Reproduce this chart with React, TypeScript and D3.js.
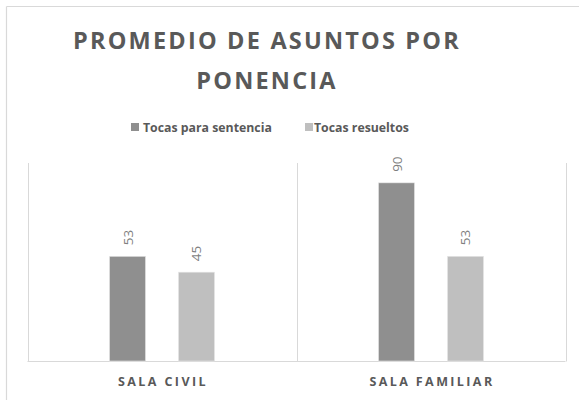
import React from "react";
import * as d3 from "d3";

const categories = ["SALA CIVIL", "SALA FAMILIAR"];
const seriesNames = ["Tocas para sentencia", "Tocas resueltos"];
const tocasParaSentencia = [53, 90];
const tocasResueltos = [45, 53];
const seriesColors = ["#8f8f8f", "#bfbfbf"];

const W = 579;
const H = 400;
const FONT = "'Open Sans', 'Noto Sans', sans-serif";

export default function App() {
  const plotLeft = 27.5;
  const plotRight = 565.5;
  const plotTop = 163;
  const plotBottom = 361.5;

  const x0 = d3.scaleBand<string>().domain(categories).range([plotLeft, plotRight]).padding(0);
  const groupW = 105;
  const x1 = d3.scaleBand<string>().domain(seriesNames).range([0, groupW]).paddingInner(0.478).paddingOuter(0);
  const y = d3.scaleLinear().domain([0, 100]).range([plotBottom, plotTop]);

  const values = [tocasParaSentencia, tocasResueltos];

  const boundaries = [...categories.map((c) => x0(c) as number), plotRight];

  return (
    <svg width={W} height={H} style={{ position: "absolute", left: 0, top: 0, background: "#fff" }}>
      <rect x={0} y={0} width={W} height={H} fill="#fff" />
      <line x1={6.5} y1={6.5} x2={W} y2={6.5} stroke="#d9d9d9" strokeWidth={1.2} />
      <line x1={6.5} y1={6.5} x2={6.5} y2={H} stroke="#d9d9d9" strokeWidth={1.2} />

      <text x={267} y={48.5} textAnchor="middle" fontFamily={FONT} fontWeight={700} fontSize={23.5} fill="#595959" letterSpacing={2.2}>
        PROMEDIO DE ASUNTOS POR
      </text>
      <text x={267} y={88.5} textAnchor="middle" fontFamily={FONT} fontWeight={700} fontSize={23.5} fill="#595959" letterSpacing={2.2}>
        PONENCIA
      </text>

      {/* legend */}
      <rect x={131} y={123} width={8} height={8} fill={seriesColors[0]} />
      <text x={143} y={131.5} fontFamily={FONT} fontWeight={700} fontSize={12.3} fill="#595959">{seriesNames[0]}</text>
      <rect x={305} y={123} width={8} height={8} fill={seriesColors[1]} />
      <text x={314} y={131.5} fontFamily={FONT} fontWeight={700} fontSize={12.3} fill="#595959">{seriesNames[1]}</text>

      {/* grid / axes */}
      {boundaries.map((bx, i) => (
        <line key={i} x1={Math.round(bx) + 0.5} y1={plotTop} x2={Math.round(bx) + 0.5} y2={plotBottom} stroke="#d9d9d9" strokeWidth={1} />
      ))}
      <line x1={plotLeft} y1={plotBottom} x2={plotRight} y2={plotBottom} stroke="#d9d9d9" strokeWidth={1} />

      {/* bars */}
      {categories.map((c, ci) =>
        seriesNames.map((s, si) => {
          const v = values[si][ci];
          const bx = (x0(c) as number) + (x0.bandwidth() - groupW) / 2 + (x1(s) as number);
          const by = y(v);
          const bw = x1.bandwidth();
          return (
            <g key={`${ci}-${si}`}>
              <rect x={bx} y={by} width={bw} height={plotBottom - 0.5 - by} fill={seriesColors[si]} stroke="#e6e6e6" strokeWidth={0.6} />
              <text
                transform={`translate(${bx + bw / 2 + 5},${by - 11}) rotate(-90)`}
                textAnchor="start"
                fontFamily={FONT}
                fontSize={13.5}
                fill="#7f7f7f"
              >
                {v}
              </text>
            </g>
          );
        })
      )}

      {/* category labels */}
      {categories.map((c) => (
        <text key={c} x={(x0(c) as number) + x0.bandwidth() / 2 + 1} y={385.5} textAnchor="middle" fontFamily={FONT} fontWeight={700} fontSize={12.5} fill="#595959" letterSpacing={2.4}>
          {c}
        </text>
      ))}
    </svg>
  );
}
